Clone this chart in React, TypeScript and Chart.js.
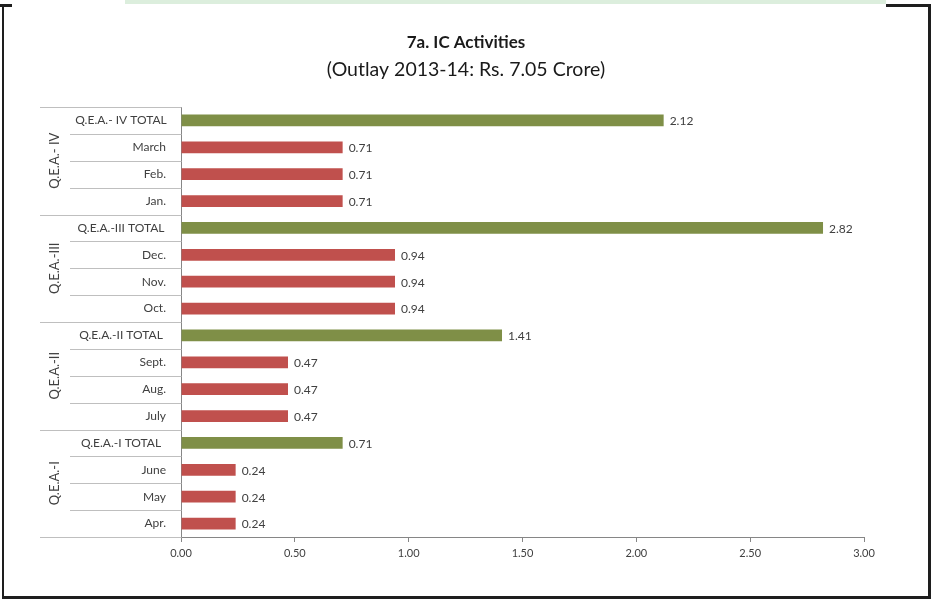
import React, { useEffect, useRef } from 'react';
import { Chart, registerables } from 'chart.js';

Chart.register(...registerables);

const categories = [
  'Q.E.A.- IV TOTAL', 'March', 'Feb.', 'Jan.',
  'Q.E.A.-III TOTAL', 'Dec.', 'Nov.', 'Oct.',
  'Q.E.A.-II TOTAL', 'Sept.', 'Aug.', 'July',
  'Q.E.A.-I TOTAL', 'June', 'May', 'Apr.',
];
const values = [
  2.12, 0.71, 0.71, 0.71,
  2.82, 0.94, 0.94, 0.94,
  1.41, 0.47, 0.47, 0.47,
  0.71, 0.24, 0.24, 0.24,
];
const isTotal = [
  true, false, false, false,
  true, false, false, false,
  true, false, false, false,
  true, false, false, false,
];
const groups = ['Q.E.A.- IV', 'Q.E.A.-III', 'Q.E.A.-II', 'Q.E.A.-I'];
const groupSize = 4;
const titleText = '7a. IC Activities';
const subtitleText = '(Outlay 2013-14: Rs. 7.05 Crore)';

const FONT = 'Lato, "Open Sans", sans-serif';
const GREEN = '#7F8F47';
const RED = '#C0504D';
const TEXT = '#404040';
const AXIS = '#868686';
const SEP = '#BFBFBF';

const decorPlugin = {
  id: 'decor',
  beforeDraw(chart: any) {
    const ctx = chart.ctx;
    ctx.save();
    ctx.fillStyle = '#ffffff';
    ctx.fillRect(0, 0, chart.width, chart.height);
    // top strip
    ctx.fillStyle = '#DCEEDD';
    ctx.fillRect(125, 0, 761, 4);
    // frame
    ctx.fillStyle = '#1e1e1e';
    ctx.fillRect(0, 4, 12, 3);
    ctx.fillRect(886, 4, 45, 3);
    ctx.fillRect(2, 4, 2, 595);
    ctx.fillRect(928, 4, 3, 595);
    ctx.fillRect(2, 596, 929, 3);
    // titles
    const cx = 466;
    ctx.fillStyle = '#1a1a1a';
    ctx.textAlign = 'center';
    ctx.textBaseline = 'middle';
    ctx.font = `bold 17px ${FONT}`;
    ctx.fillText(titleText, cx, 43);
    ctx.font = `19.5px ${FONT}`;
    ctx.fillText(subtitleText, cx, 70);
    ctx.restore();
  },
  afterDatasetsDraw(chart: any) {
    const ctx = chart.ctx;
    const meta = chart.getDatasetMeta(0);
    ctx.save();
    ctx.font = `12px ${FONT}`;
    ctx.fillStyle = TEXT;
    ctx.textAlign = 'left';
    ctx.textBaseline = 'middle';
    meta.data.forEach((bar: any, i: number) => {
      ctx.fillText(values[i].toFixed(2), bar.x + 6, bar.y + 1);
    });
    ctx.restore();
  },
  afterDraw(chart: any) {
    const ctx = chart.ctx;
    const y = chart.scales.y;
    const area = chart.chartArea;
    const n = categories.length;
    const step = (area.bottom - area.top) / n;
    const axisX = Math.round(area.left) + 0.5;
    const colGroupLeft = 40;
    const colCatLeft = 70;
    ctx.save();
    // separators
    ctx.lineWidth = 1;
    ctx.strokeStyle = SEP;
    for (let i = 0; i <= n; i++) {
      const yy = Math.round(area.top + i * step) + 0.5;
      const left = i % groupSize === 0 ? colGroupLeft : colCatLeft;
      ctx.beginPath();
      ctx.moveTo(left, yy);
      ctx.lineTo(axisX, yy);
      ctx.stroke();
    }
    // category labels
    ctx.font = `12px ${FONT}`;
    ctx.fillStyle = TEXT;
    ctx.textBaseline = 'middle';
    categories.forEach((c, i) => {
      const cy = y.getPixelForValue(i);
      if (isTotal[i]) {
        ctx.textAlign = 'center';
        ctx.fillText(c, 121, cy);
      } else {
        ctx.textAlign = 'right';
        ctx.fillText(c, 166, cy);
      }
    });
    // group labels
    ctx.font = `13px ${FONT}`;
    groups.forEach((g, gi) => {
      const top = area.top + gi * groupSize * step;
      const cy = top + (groupSize * step) / 2;
      ctx.save();
      ctx.translate(55, cy);
      ctx.rotate(-Math.PI / 2);
      ctx.textAlign = 'center';
      ctx.textBaseline = 'middle';
      ctx.fillText(g, 0, 0);
      ctx.restore();
    });
    ctx.restore();
  },
};

export default function App() {
  const ref = useRef<HTMLCanvasElement | null>(null);
  useEffect(() => {
    if (!ref.current) return;
    const chart = new Chart(ref.current, {
      type: 'bar',
      data: {
        labels: categories,
        datasets: [
          {
            data: values,
            backgroundColor: isTotal.map((t) => (t ? GREEN : RED)),
            borderWidth: 0,
            categoryPercentage: 1,
            barPercentage: 0.44,
          },
        ],
      },
      options: {
        indexAxis: 'y',
        animation: false,
        responsive: false,
        maintainAspectRatio: false,
        layout: { padding: { top: 107, right: 67, left: 0, bottom: 0 } },
        plugins: {
          legend: { display: false },
          tooltip: { enabled: false },
          title: { display: false },
        },
        scales: {
          x: {
            type: 'linear',
            min: 0,
            max: 3,
            ticks: {
              stepSize: 0.5,
              color: TEXT,
              font: { family: FONT, size: 11 },
              padding: 5,
              callback: (v: any) => Number(v).toFixed(2),
            },
            grid: { drawOnChartArea: false, drawTicks: true, tickLength: 5, color: AXIS },
            border: { display: true, color: AXIS },
            afterFit: (s: any) => {
              s.height = 62;
            },
          },
          y: {
            type: 'category',
            ticks: { display: false },
            grid: { display: false },
            border: { display: true, color: AXIS },
            afterFit: (s: any) => {
              s.width = 181;
            },
          },
        },
      },
      plugins: [decorPlugin],
    });
    return () => chart.destroy();
  }, []);
  return (
    <div style={{ position: 'absolute', left: 0, top: 0, width: 931, height: 599 }}>
      <canvas ref={ref} width={931} height={599} style={{ display: 'block' }} />
    </div>
  );
}
